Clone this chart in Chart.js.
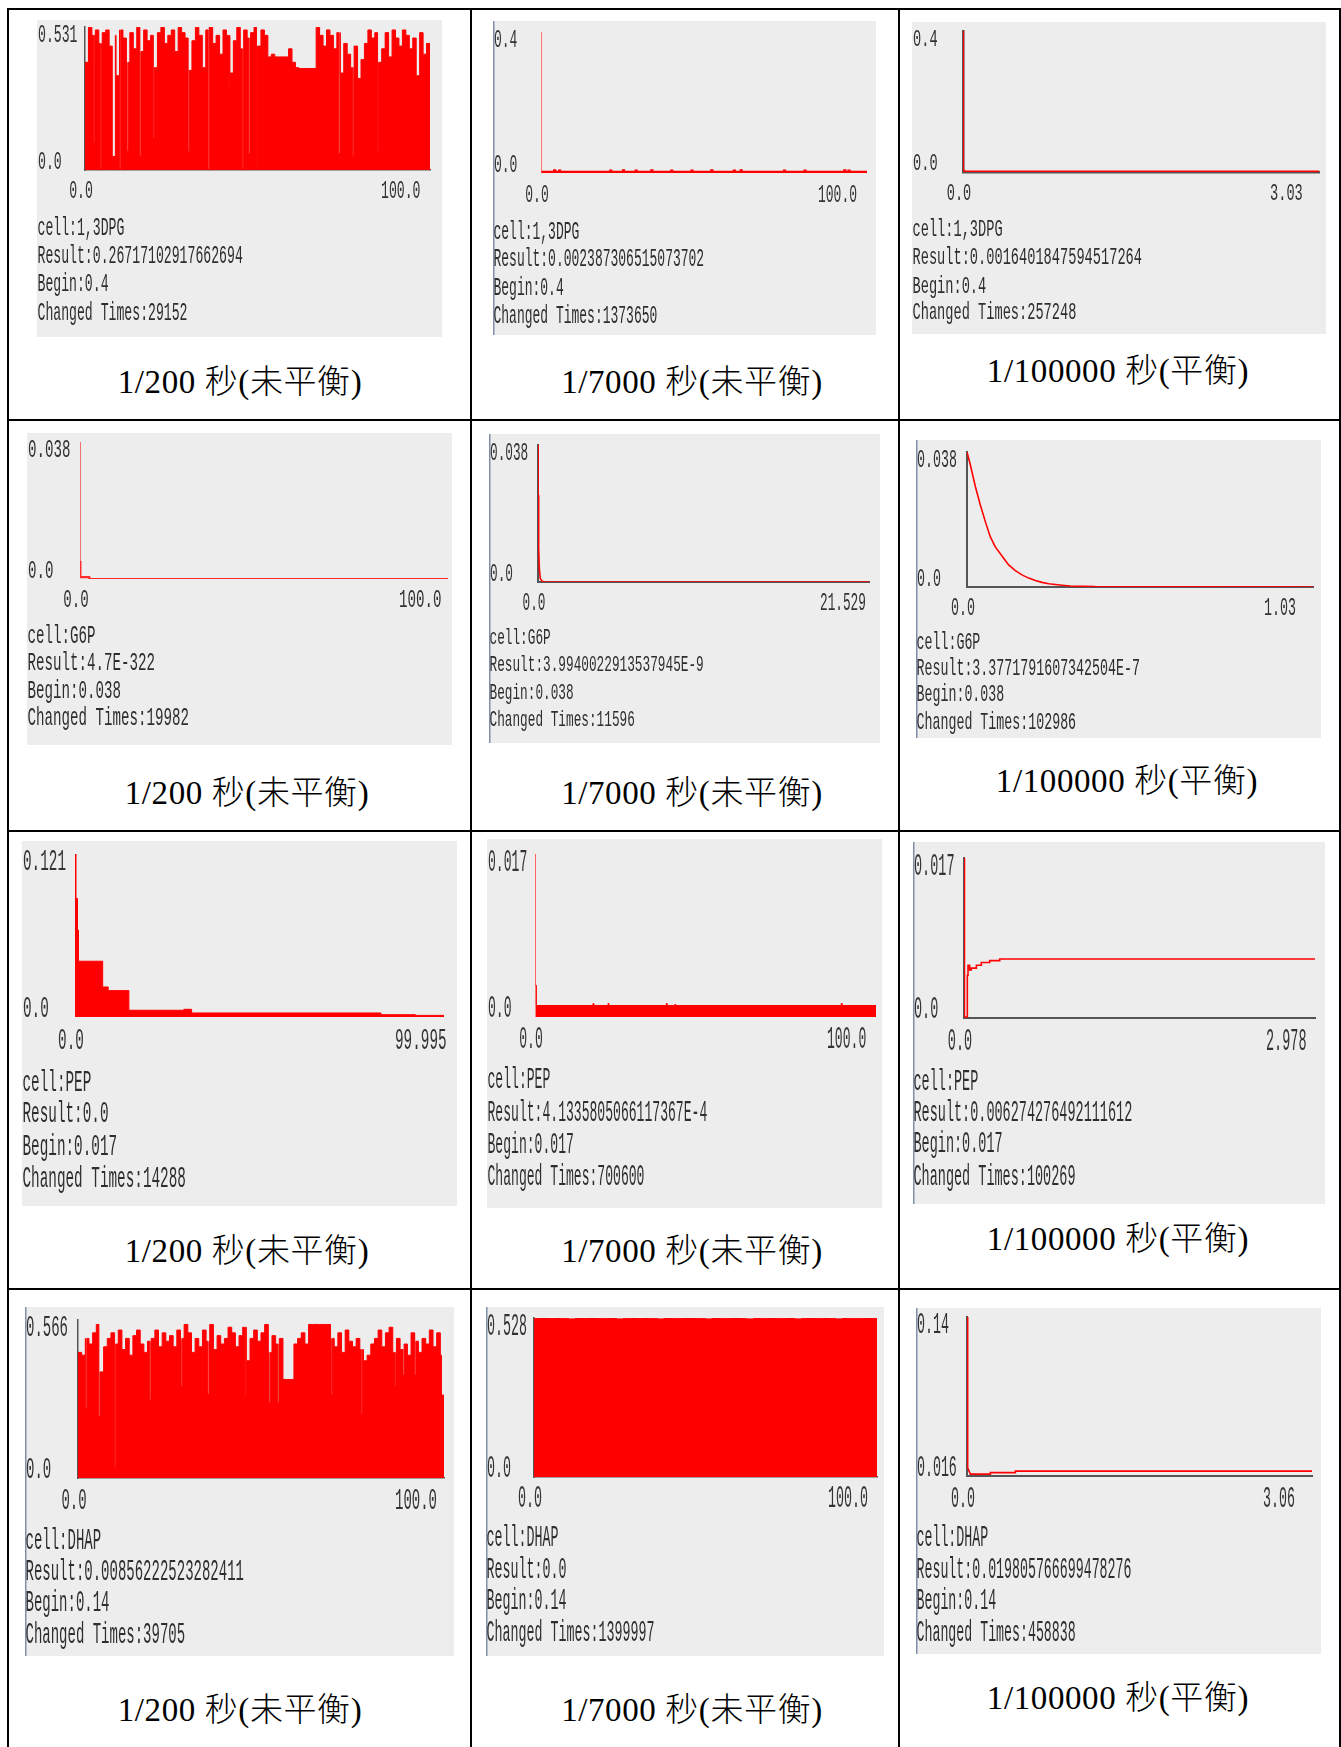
<!DOCTYPE html>
<html lang="zh-Hant">
<head>
<meta charset="utf-8">
<title>1,3DPG / G6P / PEP / DHAP</title>
<script src="https://cdn.jsdelivr.net/npm/chart.js@4.4.1/dist/chart.umd.min.js"></script>
<style>
  html, body { margin: 0; padding: 0; background: #fff; }
  #page { position: relative; width: 1341px; height: 1747px; overflow: hidden; background: #fff; }
  .rule { position: absolute; background: #000; }
  .panel { position: absolute; background: #ededed; }
  .panel.edge { box-shadow: inset 1.5px 0 0 #7f90a8; }
  .panel canvas { position: absolute; left: 0; top: 0; }
  .info { position: absolute; left: 0.5px; white-space: pre; color: #2e2e2e;
          font-family: "Liberation Mono", "DejaVu Sans Mono", monospace; transform-origin: 0 50%; }
  .cap { position: absolute; width: 440px; height: 40px; text-align: center; white-space: pre;
         font: 300 33px/40px "Liberation Serif", "Noto Sans CJK TC", serif; letter-spacing: 0.6px; color: #000; }
</style>
</head>
<body>
<div id="page"></div>
<script>
// ---------------- data ----------------
const CELLS   = ['1,3DPG','1,3DPG','1,3DPG','G6P','G6P','G6P','PEP','PEP','PEP','DHAP','DHAP','DHAP'];
const RESULTS = ['0.26717102917662694','0.002387306515073702','0.0016401847594517264',
                 '4.7E-322','3.9940022913537945E-9','3.3771791607342504E-7',
                 '0.0','4.1335805066117367E-4','0.006274276492111612',
                 '0.00856222523282411','0.0','0.019805766699478276'];
const BEGINS  = ['0.4','0.4','0.4','0.038','0.038','0.038','0.017','0.017','0.017','0.14','0.14','0.14'];
const CHANGED = ['29152','1373650','257248','19982','11596','102986','14288','700600','100269','39705','1399997','458838'];
const CAPTIONS = ['1/200 秒(未平衡)', '1/7000 秒(未平衡)', '1/100000 秒(平衡)'];

const Y_MAX = [0.531, 0.4, 0.4, 0.038, 0.038, 0.038, 0.121, 0.017, 0.017, 0.566, 0.528, 0.14];
const Y_MIN = [0, 0, 0, 0, 0, 0, 0, 0, 0, 0, 0, 0.016];
const Y_TOP_LABELS    = ['0.531','0.4','0.4','0.038','0.038','0.038','0.121','0.017','0.017','0.566','0.528','0.14'];
const Y_BOTTOM_LABELS = ['0.0','0.0','0.0','0.0','0.0','0.0','0.0','0.0','0.0','0.0','0.0','0.016'];
const X_START_LABEL = '0.0';
const X_END = [100, 100, 3.03, 100, 21.529, 1.03, 99.995, 100, 2.978, 100, 100, 3.06];
const X_END_LABELS = ['100.0','100.0','3.03','100.0','21.529','1.03','99.995','100.0','2.978','100.0','100.0','3.06'];

// sample times (s), one per second / one per two seconds
const SECONDS = [0,1,2,3,4,5,6,7,8,9,10,11,12,13,14,15,16,17,18,19,20,21,22,23,24,25,26,27,28,29,
  30,31,32,33,34,35,36,37,38,39,40,41,42,43,44,45,46,47,48,49,50,51,52,53,54,55,56,57,58,59,
  60,61,62,63,64,65,66,67,68,69,70,71,72,73,74,75,76,77,78,79,80,81,82,83,84,85,86,87,88,89,
  90,91,92,93,94,95,96,97,98,99,100];
const EVEN_SECONDS = [0,2,4,6,8,10,12,14,16,18,20,22,24,26,28,30,32,34,36,38,40,42,44,46,48,50,
  52,54,56,58,60,62,64,66,68,70,72,74,76,78,80,82,84,86,88,90,92,94,96,98,100];

// 1,3DPG, 1/200 s
const DPG_200_V = [
  0.40,0.53,0.50,0.52,0.47,0.51,0.52,0.46,0.50,0.35,
  0.52,0.49,0.40,0.51,0.45,0.53,0.44,0.52,0.48,0.50,
  0.38,0.51,0.53,0.47,0.50,0.52,0.44,0.53,0.51,0.49,
  0.37,0.48,0.53,0.50,0.38,0.52,0.53,0.47,0.50,0.43,
  0.52,0.50,0.36,0.48,0.53,0.45,0.52,0.49,0.51,0.53,
  0.46,0.52,0.50,0.42,0.43,0.42,0.42,0.42,0.42,0.45,
  0.40,0.38,0.377,0.377,0.377,0.377,0.377,0.53,0.50,0.46,
  0.52,0.50,0.45,0.51,0.36,0.47,0.43,0.38,0.46,0.34,
  0.41,0.47,0.52,0.49,0.51,0.40,0.45,0.51,0.42,0.52,
  0.49,0.46,0.52,0.50,0.45,0.49,0.35,0.51,0.43,0.47,
  0.47];
const DPG_200_DIP_FROM = [2.5, 4.45, 7.9, 10.05, 12.2, 15.9, 19.8, 29.9, 35.7, 41.6, 45.6, 47.5, 49.7, 73.6, 77.6, 84.8];
const DPG_200_DIP_TO   = [2.8, 4.75, 8.8, 10.35, 12.5, 16.2, 20.1, 30.2, 36.0, 41.9, 45.9, 47.8, 50.0, 73.9, 77.9, 85.1];
const DPG_200_DIP_V    = [0.10, 0.0, 0.05, 0.0, 0.07, 0.05, 0.12, 0.07, 0.0, 0.31, 0.0, 0.06, 0.01, 0.06, 0.055, 0.07];

// 1,3DPG, 1/7000 s
const DPG_7000_T = [0, 0.1, 4.1, 4.3, 5.6, 5.8, 21.3, 21.5, 25.2, 25.4, 29.1, 29.3, 33.9, 34.1, 40.0, 40.2,
  46.2, 46.4, 52.3, 52.5, 59.2, 59.4, 61.3, 61.5, 74.6, 74.8, 80.9, 81.1, 93.1, 93.3, 94.4, 94.6, 100];
const DPG_7000_V = [0.4, 0.0024, 0.007, 0.0024, 0.006, 0.0024, 0.006, 0.0024, 0.007, 0.0024, 0.006, 0.0024,
  0.007, 0.0024, 0.006, 0.0024, 0.006, 0.0024, 0.007, 0.0024, 0.006, 0.0024, 0.007, 0.0024, 0.006, 0.0024,
  0.006, 0.0024, 0.007, 0.0024, 0.006, 0.0024, 0.0024];

// 1,3DPG, 1/100000 s
const DPG_1E5_T = [0, 0.004, 0.02, 3.03];
const DPG_1E5_V = [0.4, 0.004, 0.0016, 0.0016];

// G6P, 1/200 s
const G6P_200_T = [0, 0.05, 0.1, 2.5, 2.6, 100];
const G6P_200_V = [0.038, 0.005, 0.0005, 0.0005, 0, 0];

// G6P, 1/7000 s
const G6P_7000_T = [0, 0.02, 0.043, 0.087, 0.15, 0.26, 0.4, 21.529];
const G6P_7000_V = [0.038, 0.0241, 0.0093, 0.0037, 0.0009, 0.0003, 0.00001, 0.000000004];

// G6P, 1/100000 s
const G6P_1E5_T = [0, 0.0099, 0.0248, 0.0397, 0.0546, 0.0695, 0.0843, 0.1042, 0.124, 0.1439, 0.1637,
  0.1836, 0.2034, 0.2233, 0.2431, 0.263, 0.2828, 0.3076, 0.382, 1.03];
const G6P_1E5_V = [0.038, 0.0344, 0.0283, 0.0231, 0.0184, 0.0141, 0.0113, 0.0087, 0.0062, 0.0046, 0.0034,
  0.0025, 0.0018, 0.0013, 0.0009, 0.0007, 0.0005, 0.0003, 0.0001, 0.0000003];

// PEP, 1/200 s
const PEP_200_T = [0, 0.27, 0.68, 0.95, 7.5, 9.0, 14.6, 29.5, 31.6, 82.9, 92.3, 99.995];
const PEP_200_V = [0.121, 0.088, 0.0645, 0.0414, 0.0223, 0.0196, 0.0050, 0.0057, 0.0030, 0.0017, 0.0012, 0.0012];

// PEP, 1/7000 s
const PEP_7000_T = [0, 0.15, 0.4, 17.0, 17.3, 21.4, 21.7, 38.5, 38.8, 41.0, 41.3, 89.8, 90.1, 100];
const PEP_7000_V = [0.017, 0.0033, 0.0012, 0.0014, 0.0012, 0.0014, 0.0012, 0.0014, 0.0012, 0.0013, 0.0012, 0.0014, 0.0012, 0.0012];

// PEP, 1/100000 s
const PEP_1E5_T = [0, 0.004, 0.0283, 0.034, 0.048, 0.062, 0.105, 0.147, 0.218, 0.303, 2.978];
const PEP_1E5_V = [0.017, 0.0001, 0.00455, 0.0056, 0.0051, 0.0053, 0.0056, 0.0059, 0.0061, 0.00627, 0.00627];

// DHAP, 1/200 s
const DHAP_200_V = [
  0.45,0.44,0.50,0.48,0.52,0.55,0.38,0.47,0.50,0.52,
  0.48,0.53,0.46,0.50,0.44,0.51,0.53,0.48,0.45,0.49,
  0.50,0.53,0.47,0.52,0.49,0.51,0.47,0.53,0.50,0.55,
  0.52,0.45,0.50,0.47,0.53,0.49,0.55,0.46,0.51,0.48,
  0.50,0.54,0.52,0.47,0.51,0.54,0.42,0.50,0.53,0.49,
  0.52,0.55,0.45,0.51,0.48,0.50,0.353,0.353,0.353,0.48,
  0.50,0.52,0.48,0.55,0.55,0.55,0.55,0.55,0.55,0.50,
  0.47,0.52,0.45,0.53,0.49,0.47,0.50,0.46,0.42,0.44,
  0.48,0.50,0.53,0.47,0.52,0.54,0.45,0.50,0.46,0.48,
  0.44,0.52,0.49,0.45,0.50,0.48,0.53,0.47,0.52,0.44,
  0.297];
const DHAP_200_DIP_FROM = [2.1, 5.7, 10.0, 19.6, 28.2, 35.5, 45.5, 52.2, 54.6, 69.2, 77.4, 86.5, 88.8, 92.0, 99.3];
const DHAP_200_DIP_TO   = [2.4, 6.0, 10.3, 19.9, 28.5, 35.8, 45.8, 52.5, 54.9, 69.5, 77.7, 86.8, 89.1, 92.3, 100];
const DHAP_200_DIP_V    = [0.25, 0.22, 0.04, 0.28, 0.33, 0.30, 0.30, 0.27, 0.27, 0.30, 0.23, 0.33, 0.37, 0.37, 0.297];

// DHAP, 1/7000 s (upper envelope of the oscillation)
const DHAP_7000_V = [0.527,0.528,0.526,0.528,0.527,0.525,0.528,0.527,0.528,0.526,0.527,0.528,0.525,
  0.527,0.528,0.526,0.528,0.527,0.525,0.528,0.527,0.526,0.528,0.528,0.527,0.525,0.528,0.526,0.527,
  0.528,0.527,0.525,0.528,0.527,0.528,0.526,0.527,0.528,0.525,0.527,0.528,0.526,0.528,0.527,0.525,
  0.528,0.527,0.526,0.528,0.527,0.527];

// DHAP, 1/100000 s
const DHAP_1E5_T = [0, 0.006, 0.03, 0.205, 0.207, 0.427, 0.429, 3.06];
const DHAP_1E5_V = [0.14, 0.0223, 0.0175, 0.0175, 0.0186, 0.0186, 0.0198, 0.0198];

// series per panel (row-major: 1,3DPG / G6P / PEP / DHAP × 1/200, 1/7000, 1/100000)
const SERIES = [
  { t: SECONDS, v: DPG_200_V, dips: [DPG_200_DIP_FROM, DPG_200_DIP_TO, DPG_200_DIP_V] },
  { t: DPG_7000_T, v: DPG_7000_V },
  { t: DPG_1E5_T, v: DPG_1E5_V },
  { t: G6P_200_T, v: G6P_200_V },
  { t: G6P_7000_T, v: G6P_7000_V },
  { t: G6P_1E5_T, v: G6P_1E5_V },
  { t: PEP_200_T, v: PEP_200_V },
  { t: PEP_7000_T, v: PEP_7000_V },
  { t: PEP_1E5_T, v: PEP_1E5_V },
  { t: SECONDS, v: DHAP_200_V, dips: [DHAP_200_DIP_FROM, DHAP_200_DIP_TO, DHAP_200_DIP_V] },
  { t: EVEN_SECONDS, v: DHAP_7000_V },
  { t: DHAP_1E5_T, v: DHAP_1E5_V }
];

// ---------------- layout ----------------
// g: grey panel box, p: plot box (left, top, right, bottom) in page pixels
const PANELS = [
  { g:[37,20,442,337],    p:[85,27,430,170],    edge:false, axes:true,  lines:[228,256,284,313],     adv:7.9,  infoH:17.5, tickH:15,   xGap:21.5, cap:[240,382],   fill:true,  stepped:true,  lw:1,   axisW:1.5 },
  { g:[493,21,876,335],   p:[541,32,867,173],   edge:true,  axes:false, lines:[231,258,287,315],     adv:7.8,  infoH:16.7, tickH:15,   xGap:22,   cap:[692,382],   fill:false, stepped:true,  lw:2.6, spike:'#ff7a7a', spikeW:1.5 },
  { g:[912,22,1326,334],  p:[963,31,1319,172],  edge:false, axes:true,  lines:[230,258,287,313],     adv:8.2,  infoH:15.7, tickH:14,   xGap:22,   cap:[1118,371],  fill:false, stepped:false, lw:2,   spike:'#ff0000', spikeW:1.4, axisW:2.5 },
  { g:[27,433,452,745],   p:[80,442,448,579],   edge:false, axes:false, lines:[635,662,690,717],     adv:8.5,  infoH:16.7, tickH:15.3, xGap:21,   cap:[247,793],   fill:false, stepped:false, lw:2.2, spike:'#f26a6a', spikeW:1.5, color:'#ff2a2a' },
  { g:[489,434,880,743],  p:[538,445,869,582],  edge:true,  axes:true,  lines:[638,665,693,720],     adv:7.65, infoH:15,   tickH:15.5, xGap:21,   cap:[692,793],   fill:false, stepped:false, lw:1.6, spike:'#ff0000', spikeW:1.3 },
  { g:[916,440,1321,738], p:[967,452,1313,587], edge:true,  axes:true,  lines:[642,668,694,722],     adv:7.98, infoH:15.7, tickH:15,   xGap:21,   cap:[1127,781],  fill:false, stepped:false, lw:1.6 },
  { g:[22,841,457,1206],  p:[75,854,444,1017],  edge:false, axes:false, lines:[1082,1113,1146,1178], adv:8.6,  infoH:20,   tickH:17.7, xGap:24,   cap:[247,1251],  fill:true,  stepped:true,  lw:1 },
  { g:[487,839,882,1208], p:[535,854,876,1017], edge:false, axes:false, lines:[1080,1113,1145,1177], adv:7.85, infoH:19,   tickH:18,   xGap:23,   cap:[692,1251],  fill:true,  stepped:true,  lw:1,   spike:'#ff6060', spikeW:1 },
  { g:[913,842,1325,1204],p:[964,858,1315,1018],edge:true,  axes:true,  lines:[1082,1113,1144,1177], adv:8.1,  infoH:19.3, tickH:18.3, xGap:24,   cap:[1118,1239], fill:false, stepped:true,  lw:1.6 },
  { g:[25,1307,454,1656], p:[78,1320,444,1478], edge:true,  axes:true,  lines:[1540,1571,1602,1634], adv:8.4,  infoH:19,   tickH:17.3, xGap:23,   cap:[240,1710],  fill:true,  stepped:true,  lw:1,   axisW:1.5 },
  { g:[486,1307,884,1656],p:[534,1318,877,1477],edge:true,  axes:true,  lines:[1538,1570,1601,1633], adv:8.0,  infoH:20,   tickH:18.3, xGap:22,   cap:[692,1710],  fill:true,  stepped:true,  lw:1,   axisW:1.5 },
  { g:[916,1308,1321,1654],p:[967,1317,1312,1476],edge:true, axes:true,  lines:[1538,1570,1601,1633], adv:7.97, infoH:20,   tickH:17.7, xGap:23,   cap:[1118,1698], fill:false, stepped:false, lw:1.6 }
];

// table rules: vertical x centres, horizontal y centres
const V_RULES = [7.8, 470.7, 898.8, 1339.7];
const H_RULES = [9, 420, 831, 1289];
const RULE_W = 2.3;

// ---------------- build ----------------
const page = document.getElementById('page');

function el(tag, cls, css) {
  const e = document.createElement(tag);
  if (cls) e.className = cls;
  Object.assign(e.style, css || {});
  return e;
}

V_RULES.forEach(x => page.appendChild(el('div', 'rule',
  { left: (x - RULE_W / 2) + 'px', top: '8px', width: RULE_W + 'px', height: '1747px' })));
H_RULES.forEach(y => page.appendChild(el('div', 'rule',
  { left: '6.7px', top: (y - RULE_W / 2) + 'px', width: '1341px', height: RULE_W + 'px' })));

// turn a series into {x,y} points; short dips replace the held value between two times
function toPoints(s) {
  let pts = s.t.map((x, i) => ({ x, y: s.v[i] }));
  if (!s.dips) return pts;
  const [from, to, low] = s.dips;
  pts = pts.filter(p => !from.some((a, k) => p.x > a && p.x < to[k]));
  from.forEach((a, k) => {
    let i = 0;
    while (i + 1 < s.t.length && s.t[i + 1] <= to[k]) i++;
    pts.push({ x: a, y: low[k] }, { x: to[k], y: s.v[i] });
  });
  return pts.sort((a, b) => a.x - b.x);
}

// corner value labels drawn against the chart's own scales
const cornerLabels = {
  id: 'cornerLabels',
  afterDraw(chart) {
    const i = chart.$idx, P = PANELS[i];
    const { ctx } = chart;
    const xs = chart.scales.x, ys = chart.scales.y;
    const fs = P.adv / 0.6, sy = 1.12 * P.tickH / (0.66 * fs);
    const put = (txt, px, py, align) => {
      ctx.save();
      ctx.translate(px, py);
      ctx.scale(1, sy);
      ctx.textAlign = align;
      ctx.textBaseline = 'middle';
      ctx.fillText(txt, 0, 0);
      ctx.restore();
    };
    ctx.save();
    ctx.fillStyle = '#333';
    ctx.font = fs + 'px "Liberation Mono", "DejaVu Sans Mono", monospace';
    const yTop = ys.getPixelForValue(ys.max);
    const yBot = ys.getPixelForValue(ys.min);
    put(Y_TOP_LABELS[i], 1, yTop + 8.5, 'left');
    put(Y_BOTTOM_LABELS[i], 1, yBot - 8, 'left');
    const xl = yBot + P.xGap;
    put(X_START_LABEL, xs.getPixelForValue(xs.min) - 4, xl, 'center');
    put(X_END_LABELS[i], xs.getPixelForValue(xs.max) - 49, xl, 'left');
    ctx.restore();
  }
};

function build() {
  PANELS.forEach((P, i) => {
    const [x0, y0, x1, y1] = P.g, [pl, pt, pr, pb] = P.p;
    const w = x1 - x0, h = y1 - y0;
    const box = el('div', 'panel' + (P.edge ? ' edge' : ''),
      { left: x0 + 'px', top: y0 + 'px', width: w + 'px', height: h + 'px' });
    page.appendChild(box);

    const cv = document.createElement('canvas');
    cv.width = w; cv.height = h;
    cv.style.width = w + 'px'; cv.style.height = h + 'px';
    box.appendChild(cv);

    // info lines
    const fs = P.adv / 0.6, sy = P.infoH / (0.66 * fs);
    const texts = ['cell:' + CELLS[i], 'Result:' + RESULTS[i], 'Begin:' + BEGINS[i], 'Changed Times:' + CHANGED[i]];
    texts.forEach((t, k) => {
      const d = el('div', 'info', {
        top: (P.lines[k] - y0 - fs / 2 + 1) + 'px', height: fs + 'px',
        fontSize: fs + 'px', lineHeight: fs + 'px', transform: 'scaleY(' + sy.toFixed(3) + ')'
      });
      d.textContent = t;
      box.appendChild(d);
    });

    // caption under the panel
    const cap = el('div', 'cap', { left: (P.cap[0] - 220) + 'px', top: (P.cap[1] - 20) + 'px' });
    cap.textContent = CAPTIONS[i % 3];
    page.appendChild(cap);

    const color = P.color || '#ff0000';
    const axisW = P.axisW || 2;
    const axis = (min, max) => ({
      type: 'linear', min, max, display: true,
      grid: { display: false, drawTicks: false },
      ticks: { display: false },
      border: { display: P.axes, color: '#555', width: axisW }
    });
    const ds = {
      data: toPoints(SERIES[i]),
      borderColor: color,
      backgroundColor: color,
      borderWidth: P.lw,
      pointRadius: 0,
      tension: 0,
      fill: P.fill ? 'origin' : false,
      stepped: P.stepped ? true : false
    };
    if (P.spike) {
      ds.segment = {
        borderColor: c => c.p0DataIndex === 0 ? P.spike : undefined,
        borderWidth: c => c.p0DataIndex === 0 ? P.spikeW : undefined
      };
    }
    new Chart(cv, {
      type: 'line',
      data: { datasets: [ds] },
      options: {
        responsive: false, animation: false, devicePixelRatio: 1, events: [],
        layout: { padding: { left: pl - x0, top: pt - y0, right: x1 - pr, bottom: y1 - pb } },
        scales: { x: axis(0, X_END[i]), y: axis(Y_MIN[i], Y_MAX[i]) },
        plugins: { legend: { display: false }, tooltip: { enabled: false } }
      },
      plugins: [{ id: 'idx', beforeInit(c) { c.$idx = i; } }, cornerLabels]
    });
  });
}

const fontsReady = document.fonts
  ? Promise.all([
      document.fonts.load('13px "Liberation Mono"'),
      document.fonts.load('33px "Liberation Serif"'),
      document.fonts.load('300 33px "Noto Sans CJK TC"', '秒未平衡')
    ]).catch(() => {})
  : Promise.resolve();
fontsReady.then(build);
</script>
</body>
</html>
